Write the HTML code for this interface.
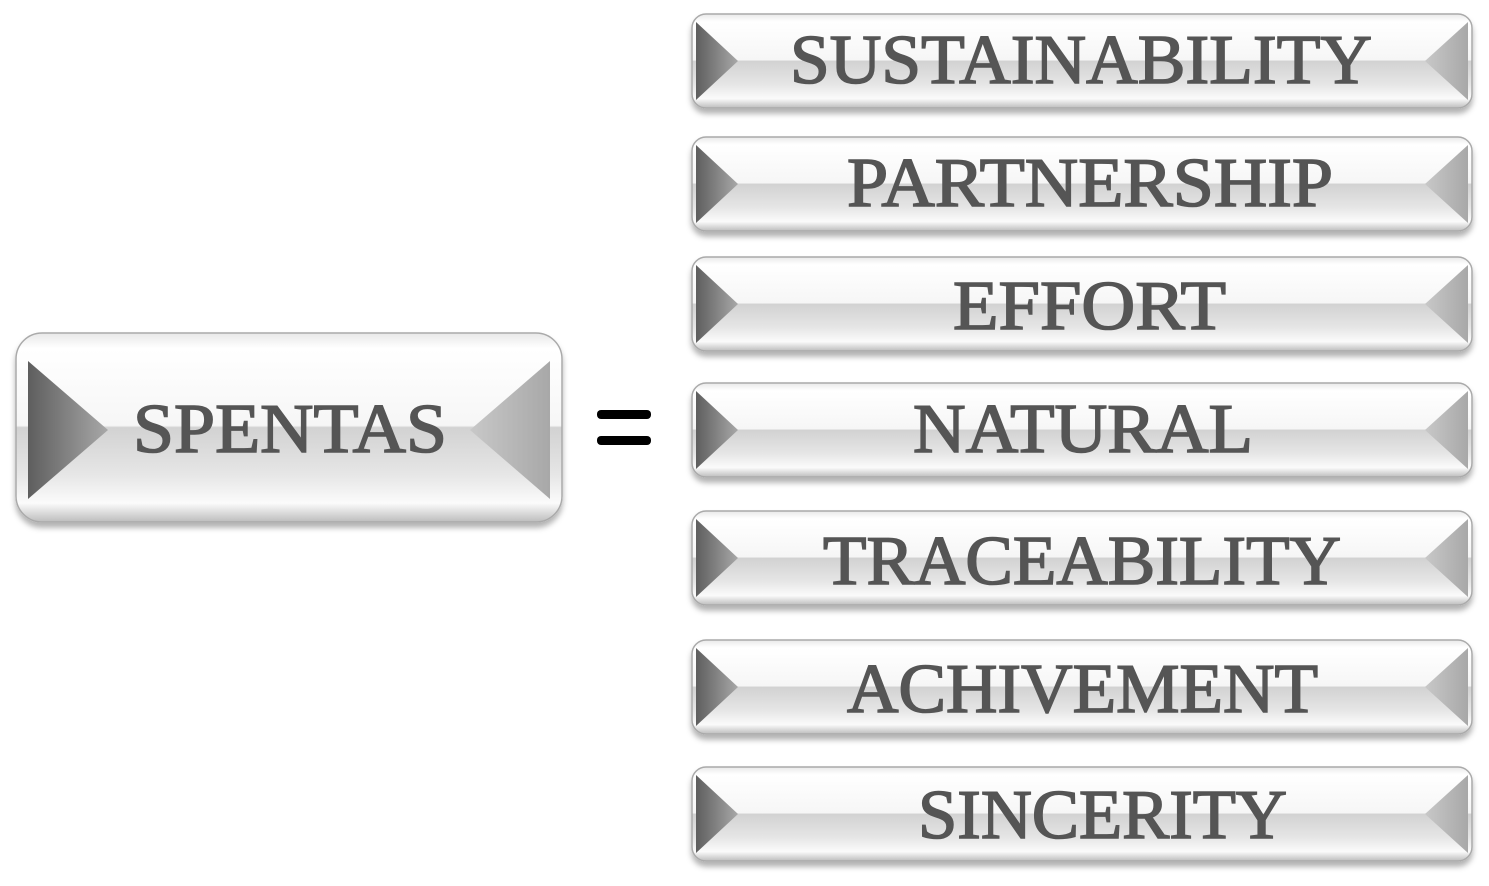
<!DOCTYPE html>
<html><head><meta charset="utf-8"><style>
html,body{margin:0;padding:0;background:#fff;}
svg{display:block}
text{font-family:"Liberation Serif",serif;fill:#555;font-size:70px;stroke:#555;stroke-width:1.6px;}
</style></head><body>
<svg width="1489" height="886" viewBox="0 0 1489 886" xmlns="http://www.w3.org/2000/svg">
<defs>
<linearGradient id="body" x1="0" y1="0" x2="0" y2="1">
<stop offset="0" stop-color="#e8e8e8"/>
<stop offset="0.08" stop-color="#ffffff"/>
<stop offset="0.49" stop-color="#f6f6f6"/>
<stop offset="0.5" stop-color="#d2d2d2"/>
<stop offset="0.75" stop-color="#e6e6e6"/>
<stop offset="0.9" stop-color="#fbfbfb"/>
<stop offset="1" stop-color="#bdbdbd"/>
</linearGradient>
<linearGradient id="lt" x1="0" y1="0" x2="1" y2="0">
<stop offset="0" stop-color="#5e5e5e"/>
<stop offset="1" stop-color="#a8a8a8"/>
</linearGradient>
<linearGradient id="rt" x1="0" y1="0" x2="1" y2="0">
<stop offset="0" stop-color="#c8c8c8"/>
<stop offset="1" stop-color="#a8a8a8"/>
</linearGradient>
<filter id="sh" x="-5%" y="-20%" width="110%" height="150%">
<feDropShadow dx="0" dy="5" stdDeviation="3" flood-color="#000" flood-opacity="0.3"/>
</filter>
<g id="pill">
<rect x="0" y="0" width="780" height="94" rx="14" fill="url(#body)" stroke="#aaa" stroke-width="1.5" filter="url(#sh)"/>
<polygon points="4,8 46,47 4,86" fill="url(#lt)"/>
<polygon points="776,8 733,47 776,86" fill="url(#rt)"/>
</g>
</defs>

<g transform="translate(16,333)">
<rect x="0" y="0" width="546" height="189" rx="26" fill="url(#body)" stroke="#aaa" stroke-width="1.5" filter="url(#sh)"/>
<polygon points="12,28 92,97 12,166" fill="url(#lt)"/>
<polygon points="534,28 454,97 534,166" fill="url(#rt)"/>
</g>
<text x="133" y="452" textLength="314" lengthAdjust="spacingAndGlyphs">SPENTAS</text>

<rect x="597" y="410" width="54" height="9" rx="4" fill="#000"/>
<rect x="597" y="436" width="54" height="9" rx="4" fill="#000"/>

<use href="#pill" x="692" y="14"/>
<use href="#pill" x="692" y="137"/>
<use href="#pill" x="692" y="257"/>
<use href="#pill" x="692" y="383"/>
<use href="#pill" x="692" y="511"/>
<use href="#pill" x="692" y="640"/>
<use href="#pill" x="692" y="767"/>

<text x="790" y="83" textLength="582" lengthAdjust="spacingAndGlyphs">SUSTAINABILITY</text>
<text x="847" y="206" textLength="486" lengthAdjust="spacingAndGlyphs">PARTNERSHIP</text>
<text x="953" y="329" textLength="273" lengthAdjust="spacingAndGlyphs">EFFORT</text>
<text x="913" y="452" textLength="340" lengthAdjust="spacingAndGlyphs">NATURAL</text>
<text x="823" y="584" textLength="518" lengthAdjust="spacingAndGlyphs">TRACEABILITY</text>
<text x="847" y="712" textLength="471" lengthAdjust="spacingAndGlyphs">ACHIVEMENT</text>
<text x="918" y="838" textLength="369" lengthAdjust="spacingAndGlyphs">SINCERITY</text>
</svg>
</body></html>
